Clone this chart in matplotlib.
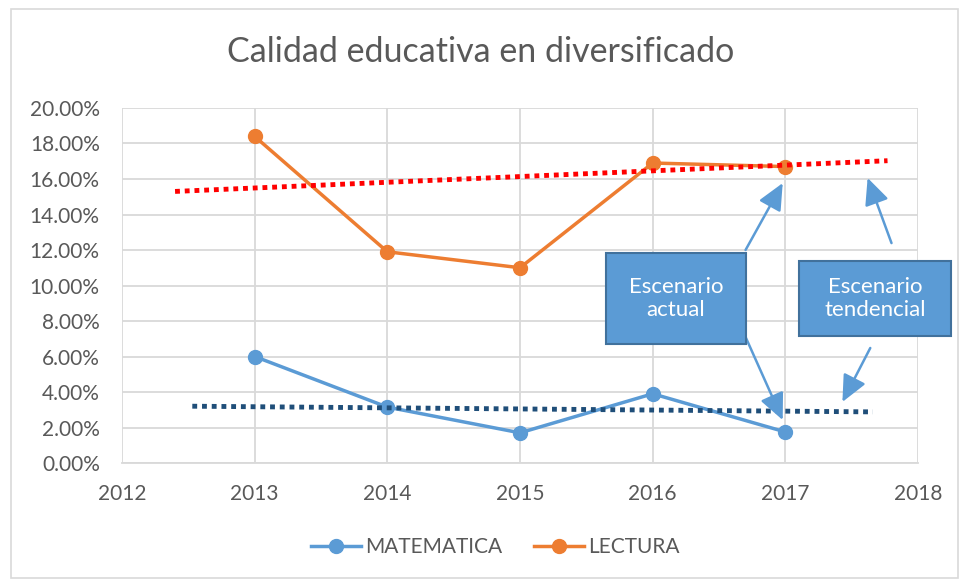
import matplotlib.pyplot as plt
from matplotlib.patches import Rectangle
from matplotlib.ticker import PercentFormatter

years = [2013, 2014, 2015, 2016, 2017]
matematica = [6.0, 3.15, 1.7, 3.9, 1.75]
lectura = [18.4, 11.9, 11.0, 16.9, 16.7]

# trend lines as drawn in the original (start / end)
trend_x_lect = [2012.4, 2017.77]
trend_lect = [15.3, 17.03]
trend_x_mat = [2012.53, 2017.66]
trend_mat = [3.2, 2.88]

plt.rcParams['font.family'] = ['Lato', 'DejaVu Sans']
gray = '#595959'
blue = '#5B9BD5'
orange = '#ED7D31'

fig = plt.figure(figsize=(9.62, 5.80), dpi=100)
ax = fig.add_axes([0.1268, 0.2017, 0.9543 - 0.1268, 0.8138 - 0.2017])

ax.plot(trend_x_lect, trend_lect, color='#FF0000', lw=3.5, ls=(0, (1, 1)),
        dash_capstyle='butt', zorder=4)
ax.plot(trend_x_mat, trend_mat, color='#1F4E79', lw=3.5, ls=(0, (1, 1)),
        dash_capstyle='butt', zorder=4)
ax.plot(years, matematica, color=blue, lw=2.5, marker='o', ms=10, label='MATEMATICA', zorder=3)
ax.plot(years, lectura, color=orange, lw=2.5, marker='o', ms=10, label='LECTURA', zorder=3)

ax.set_xlim(2012, 2018)
ax.set_ylim(0, 20)
ax.set_yticks(range(0, 21, 2))
ax.yaxis.set_major_formatter(PercentFormatter(decimals=2))
ax.grid(True, color='#D9D9D9', lw=1.3)
ax.set_axisbelow(True)
for s in ['top', 'right', 'left']:
    ax.spines[s].set_visible(False)
ax.spines['bottom'].set_color('#D9D9D9')
ax.spines['bottom'].set_linewidth(1.3)
ax.tick_params(length=0, labelsize=15, colors=gray)
ax.tick_params(axis='y', pad=16)
ax.tick_params(axis='x', pad=15)

fig.text(0.5, 1 - 52 / 580, 'Calidad educativa en diversificado', ha='center', va='center',
         fontsize=24.5, color=gray)

ax.legend(loc='center', bbox_to_anchor=(0.515, 0.057), bbox_transform=fig.transFigure,
          ncol=2, frameon=False, fontsize=15, labelcolor=gray, handlelength=2.4,
          columnspacing=1.5, handletextpad=0.2)

# text boxes with arrows
boxes = [((2015.65, 6.7), 1.05, 5.13, 'Escenario\nactual'),
         ((2017.10, 7.15), 1.15, 4.23, 'Escenario\ntendencial')]
for (bx, by), w, h, txt in boxes:
    ax.add_patch(Rectangle((bx, by), w, h, facecolor=blue, edgecolor='#41719C',
                           lw=1.5, clip_on=False, zorder=6))
    ax.text(bx + w / 2, by + h / 2, txt, ha='center', va='center', color='white',
            fontsize=16, zorder=7, linespacing=1.2)

arrows = [((2016.70, 12.0), (2016.98, 15.77)),
          ((2016.70, 7.1), (2016.98, 2.42)),
          ((2017.80, 12.39), (2017.62, 16.06)),
          ((2017.64, 6.48), (2017.43, 3.44))]
for tail, tip in arrows:
    ax.annotate('', xy=tip, xytext=tail, annotation_clip=False, zorder=5,
                arrowprops=dict(arrowstyle='-|>,head_length=0.65,head_width=0.3', color=blue,
                                lw=1.8, mutation_scale=25, shrinkA=0, shrinkB=0))

fig.add_artist(Rectangle((0.011, 0.004), 0.985, 0.98, transform=fig.transFigure,
                         fill=False, edgecolor='#D9D9D9', lw=1.2))

fig.savefig('out.png', dpi=100)
